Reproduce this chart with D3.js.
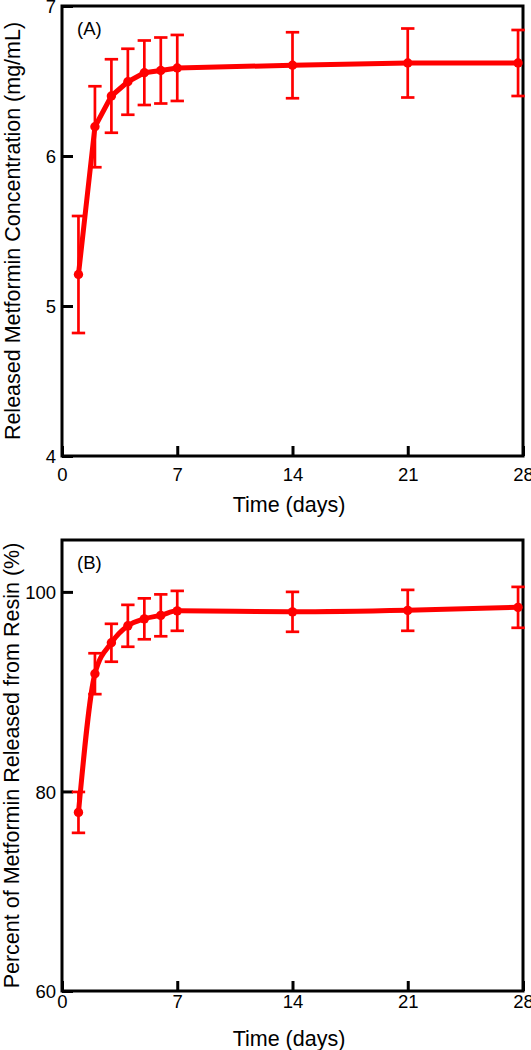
<!DOCTYPE html>
<html>
<head>
<meta charset="utf-8">
<script src="https://cdn.jsdelivr.net/npm/d3@7"></script>
<style>
  html, body { margin: 0; padding: 0; background: #fff; }
  svg { display: block; font-family: "Liberation Sans", Arial, sans-serif; }
</style>
</head>
<body>
<svg id="chart" width="531" height="1050"></svg>
<script>
// ---- data ----
const days = [1, 2, 3, 4, 5, 6, 7, 14, 21, 27.7];
const xTicks = [0, 7, 14, 21, 28];

// Panel A: released metformin concentration (mg/mL)
const concMean = [5.21, 6.195, 6.40, 6.495, 6.555, 6.57, 6.587, 6.605, 6.62, 6.62];
const concErr  = [0.39, 0.27, 0.245, 0.22, 0.215, 0.22, 0.22, 0.22, 0.23, 0.22];
const concTicks = [4, 5, 6, 7];

// Panel B: percent of metformin released from resin (%)
const pctMean = [77.9, 91.8, 94.9, 96.6, 97.3, 97.65, 98.1, 98.0, 98.15, 98.45];
const pctErr  = [2.05, 2.05, 1.9, 2.1, 2.05, 2.1, 2.0, 2.0, 2.05, 2.05];
const pctTicks = [60, 80, 100];

const RED = "#ff0000";
const svg = d3.select("#chart");

function panel(opts) {
  const x = d3.scaleLinear().domain([0, 28]).range([62, 523]);
  const y = d3.scaleLinear().domain(opts.yDomain).range(opts.yRange);
  const g = svg.append("g");
  const y0 = opts.yRange[0], y1 = opts.yRange[1];

  // x axis
  const xa = g.append("g").attr("transform", `translate(0,${y0})`)
    .call(d3.axisBottom(x).tickValues(xTicks).tickSizeInner(-10).tickSizeOuter(0).tickPadding(opts.xPad).tickFormat(d3.format("d")));
  // y axis
  const ya = g.append("g").attr("transform", `translate(62,0)`)
    .call(d3.axisLeft(y).tickValues(opts.yTicks).tickSizeInner(-11).tickSizeOuter(0).tickPadding(6).tickFormat(d3.format("d")));
  [xa, ya].forEach(a => {
    a.select(".domain").remove();
    a.selectAll(".tick line").attr("stroke", "#000").attr("stroke-width", 3);
    a.selectAll(".tick text").attr("fill", "#000").style("font-size", "18.5px")
      .style("font-family", '"Liberation Sans", Arial, sans-serif');
  });
  ya.selectAll(".tick text").attr("dy", "0.36em");

  // frame
  g.append("rect").attr("x", 62).attr("y", y1).attr("width", 523 - 62).attr("height", y0 - y1)
    .attr("fill", "none").attr("stroke", "#000").attr("stroke-width", 3);

  const data = days.map((d, i) => ({ d, m: opts.mean[i], e: opts.err[i] }));

  // line
  const line = d3.line().x(p => x(p.d)).y(p => y(p.m)).curve(opts.curve);
  g.append("path").datum(data).attr("d", line)
    .attr("fill", "none").attr("stroke", RED).attr("stroke-width", 5).attr("stroke-linejoin", "round");

  // error bars
  const eb = g.append("g").attr("stroke", RED).attr("stroke-width", 2.7);
  data.forEach(p => {
    eb.append("line").attr("x1", x(p.d)).attr("x2", x(p.d)).attr("y1", y(p.m - p.e)).attr("y2", y(p.m + p.e));
    [p.m - p.e, p.m + p.e].forEach(v => {
      eb.append("line").attr("x1", x(p.d) - 6.7).attr("x2", x(p.d) + 6.7).attr("y1", y(v)).attr("y2", y(v));
    });
  });

  // points
  g.append("g").selectAll("circle").data(data).join("circle")
    .attr("cx", p => x(p.d)).attr("cy", p => y(p.m)).attr("r", 4.7).attr("fill", RED);

  // panel label
  g.append("text").attr("x", 77).attr("y", opts.labelY).text(opts.label)
    .style("font-size", "18.5px").attr("fill", "#000");

  // x title
  g.append("text").attr("x", 289).attr("y", opts.xTitleY).attr("text-anchor", "middle")
    .style("font-size", "21.5px").attr("fill", "#000").text("Time (days)");

  // y title
  g.append("text").attr("transform", `translate(${opts.yTitleX},${(y0 + y1) / 2}) rotate(-90)`)
    .attr("text-anchor", "middle").style("font-size", "21.5px").attr("fill", "#000").text(opts.yTitle);
}

panel({
  yDomain: [4, 7], yRange: [456, 6], yTicks: concTicks,
  mean: concMean, err: concErr, curve: d3.curveLinear,
  xPad: 12, label: "(A)", labelY: 35, xTitleY: 512,
  yTitleX: 20, yTitle: "Released Metformin Concentration (mg/mL)"
});

panel({
  yDomain: [60, 105.2], yRange: [991, 540], yTicks: pctTicks,
  mean: pctMean, err: pctErr, curve: d3.curveMonotoneX,
  xPad: 4, label: "(B)", labelY: 569, xTitleY: 1046,
  yTitleX: 19, yTitle: "Percent of Metformin Released from Resin (%)"
});
</script>
</body>
</html>
